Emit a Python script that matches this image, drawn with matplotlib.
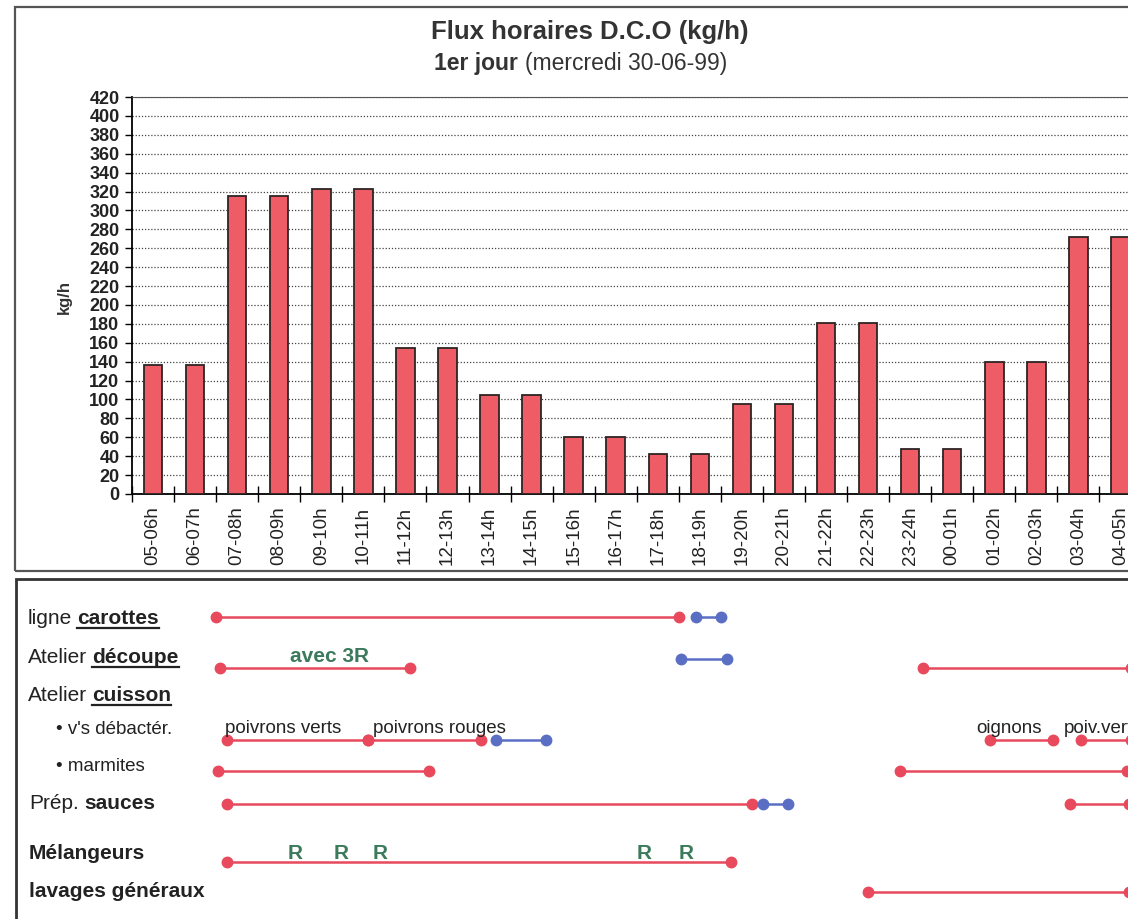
import matplotlib
matplotlib.use('Agg')
import matplotlib.pyplot as plt
from matplotlib.patches import Rectangle
from matplotlib.lines import Line2D

plt.rcParams['font.family'] = ['Liberation Sans', 'DejaVu Sans']

W, H = 1128, 919

# --- bar chart data
hours = ['05-06h', '06-07h', '07-08h', '08-09h', '09-10h', '10-11h', '11-12h', '12-13h',
         '13-14h', '14-15h', '15-16h', '16-17h', '17-18h', '18-19h', '19-20h', '20-21h',
         '21-22h', '22-23h', '23-24h', '00-01h', '01-02h', '02-03h', '03-04h', '04-05h']
dco = [136, 136, 315, 315, 323, 323, 154, 154, 105, 105, 60, 60,
       42, 42, 95, 95, 181, 181, 48, 48, 140, 140, 272, 272]

# --- timeline data (hours from 05h, >24 = next day)
seg_row = ['carottes', 'carottes',
           'decoupe', 'decoupe', 'decoupe',
           'vis', 'vis', 'vis', 'vis', 'vis',
           'marmites', 'marmites',
           'sauces', 'sauces', 'sauces',
           'melangeurs',
           'lavages']
seg_start = [7.0, 18.4,
             7.1, 18.05, 23.8,
             7.25, 10.6, 13.65, 25.4, 27.55,
             7.05, 23.25,
             7.25, 20.0, 27.3,
             7.25,
             22.5]
seg_end = [18.0, 19.0,
           11.6, 19.15, 28.75,
           10.6, 13.3, 14.85, 26.9, 28.75,
           12.05, 28.65,
           19.75, 20.6, 28.7,
           19.25,
           28.7]
seg_kind = ['p', 'b',
            'p', 'b', 'p',
            'p', 'p', 'b', 'p', 'p',
            'p', 'p',
            'p', 'b', 'p',
            'p',
            'p']

notes = ['poivrons verts', 'poivrons rouges', 'oignons', 'poiv.verts']
note_h = [7.2, 10.73, 25.08, 27.15]
note_row = ['vis', 'vis', 'vis', 'vis']

r_marks_h = [8.88, 9.96, 10.9, 17.17, 18.18]

# layout (pixel rows in the lower panel)
row_y = {'carottes': 617, 'decoupe': 668, 'vis': 740, 'marmites': 771,
         'sauces': 804, 'melangeurs': 862, 'lavages': 892}
RED = '#e8495c'
BLUE = '#5a6fc4'
GREEN = '#3c7a5c'
BAR = '#ee5d65'


def fx(x):
    return x / W


def fy(y):
    return 1 - y / H


fig = plt.figure(figsize=(W / 100, H / 100), dpi=100)

# panel frames
fig.add_artist(Rectangle((fx(15), fy(571)), fx(1140 - 15), 564 / H, transform=fig.transFigure,
                         fill=False, edgecolor='#555555', lw=1.6))
fig.add_artist(Rectangle((fx(16), fy(925)), fx(1140 - 16), (925 - 579) / H, transform=fig.transFigure,
                         fill=False, edgecolor='#333333', lw=2.0))

# ---------------- bar chart
ax = fig.add_axes([fx(132), fy(494), (1141.5 - 132) / W, 397 / H])
x = list(range(len(hours)))
ax.bar(x, dco, width=0.44, color=BAR, edgecolor='#2e2424', linewidth=1.3, zorder=3)
ax.set_xlim(-0.5, len(hours) - 0.5)
ax.set_ylim(0, 420)
ax.set_yticks(range(0, 421, 20))
ax.set_yticklabels([str(v) for v in range(0, 421, 20)], fontsize=13, fontweight='bold', color='#222222')
ax.tick_params(axis='y', direction='out', length=5, width=1, pad=4)
ax.set_xticks([i - 0.5 for i in range(len(hours) + 1)])
ax.set_xticklabels([])
ax.tick_params(axis='x', which='major', direction='inout', length=11, width=1)
ax.set_xticks(x, minor=True)
ax.set_xticklabels(hours, minor=True, rotation=90, fontsize=13.5, color='#222222')
ax.tick_params(axis='x', which='minor', length=0, pad=9)
ax.grid(axis='y', linestyle=(0, (1, 1.5)), color='#444444', linewidth=0.9, zorder=0)
ax.spines['right'].set_visible(False)
ax.spines['top'].set_color('#555555')
ax.spines['left'].set_linewidth(1.3)
ax.spines['bottom'].set_linewidth(1.3)

fig.text(fx(64), fy(297), 'kg/h', rotation=90, ha='center', va='center',
         fontsize=12, fontweight='bold', color='#333333')
fig.text(fx(590), fy(39), 'Flux horaires D.C.O (kg/h)', ha='center', va='baseline',
         fontsize=18.5, fontweight='bold', color='#333333')
fig.text(fx(518), fy(70), '1er jour', ha='right', va='baseline',
         fontsize=16.5, fontweight='bold', color='#333333')
fig.text(fx(525), fy(70), '(mercredi 30-06-99)', ha='left', va='baseline',
         fontsize=16.5, color='#333333')

# ---------------- timeline
tl = fig.add_axes([fx(132), 0, (1141.5 - 132) / W, (919 - 579) / H])
tl.set_xlim(5, 29)
tl.set_ylim(919, 579)
tl.axis('off')

for row, h0, h1, kind in zip(seg_row, seg_start, seg_end, seg_kind):
    c = RED if kind == 'p' else BLUE
    y = row_y[row] - (9 if (row == 'decoupe' and kind == 'b') else 0)
    tl.plot([h0, h1], [y, y], color=c, lw=1.8, marker='o', ms=7.5, clip_on=False, zorder=3)

for s, h, row in zip(notes, note_h, note_row):
    tl.text(h, row_y[row] - 7, s, fontsize=13.5, color='#222222', va='baseline', ha='left', clip_on=False)

tl.text(9.7, 662, 'avec 3R', fontsize=15, fontweight='bold', color=GREEN, ha='center', va='baseline')
for h in r_marks_h:
    tl.text(h, 859, 'R', fontsize=15, fontweight='bold', color=GREEN, ha='center', va='baseline')

# row labels
renderer = fig.canvas.get_renderer()


def rich(x, y, parts, size):
    for s, bold, under in parts:
        t = fig.text(fx(x), fy(y), s, fontsize=size, fontweight='bold' if bold else 'normal',
                     va='baseline', ha='left', color='#222222')
        bb = t.get_window_extent(renderer)
        if under:
            fig.add_artist(Line2D([bb.x0 / W, bb.x1 / W], [fy(y + 4)] * 2, color='#222222', lw=1.6))
        x = bb.x1 + 0.25 * size * 100 / 72


rich(28, 624, [('ligne', False, False), ('carottes', True, True)], 15)
rich(28, 663, [('Atelier', False, False), ('découpe', True, True)], 15)
rich(28, 701, [('Atelier', False, False), ('cuisson', True, True)], 15)
rich(56, 734, [("• v's débactér.", False, False)], 13.5)
rich(56, 771, [('• marmites', False, False)], 13.5)
rich(29, 809, [('Prép.', False, False), ('sauces', True, False)], 15)
rich(29, 859, [('Mélangeurs', True, False)], 15)
rich(29, 897, [('lavages généraux', True, False)], 15)

fig.savefig('out.png', dpi=100)
